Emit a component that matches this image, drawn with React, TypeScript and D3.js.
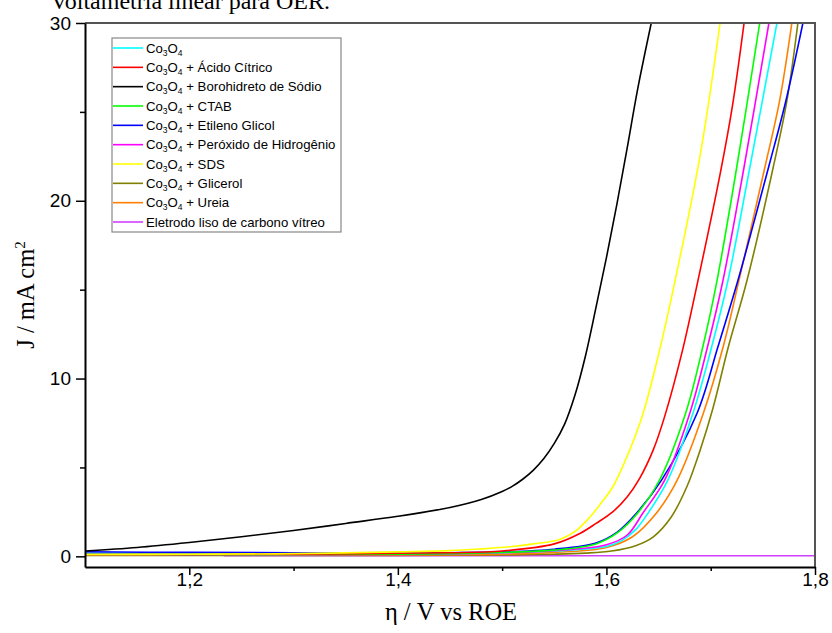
import React, { useEffect, useRef } from 'react';
import * as d3 from 'd3';

// tick labels
const xTicks = [1.2, 1.4, 1.6, 1.8];
const xMinorTicks = [1.3, 1.5, 1.7];
const yTicks = [0, 10, 20, 30];
const yMinorTicks = [5, 15, 25];

// [potential V, current density mA cm-2]
const co3o4 = [[1.1, 0.15], [1.3, 0.12], [1.45, 0.15], [1.5, 0.2], [1.55, 0.3], [1.6, 0.55], [1.615, 0.9], [1.628, 1.5], [1.64, 2.44], [1.659, 4.3], [1.683, 8.06], [1.701, 11.8], [1.7165, 15.5], [1.7376, 21.9], [1.7635, 30]];
const acidoCitrico = [[1.1, 0.1], [1.3, 0.12], [1.45, 0.2], [1.5, 0.3], [1.55, 0.7], [1.575, 1.3], [1.59, 1.85], [1.606, 2.5], [1.62, 3.35], [1.632, 4.4], [1.645, 6.0], [1.656, 7.9], [1.673, 11.6], [1.687, 15.3], [1.709, 21.5], [1.721, 25.4], [1.732, 30]];
const borohidreto = [[1.1, 0.3], [1.15, 0.5], [1.2, 0.78], [1.25, 1.1], [1.3, 1.45], [1.35, 1.85], [1.4, 2.25], [1.45, 2.75], [1.48, 3.2], [1.5, 3.65], [1.51, 3.95], [1.52, 4.35], [1.53, 4.85], [1.54, 5.5], [1.55, 6.35], [1.56, 7.45], [1.57, 9.1], [1.58, 11.3], [1.59, 14.0], [1.6, 16.8], [1.61, 19.8], [1.62, 23.0], [1.63, 26.3], [1.643, 30]];
const ctab = [[1.1, 0.1], [1.4, 0.12], [1.5, 0.22], [1.55, 0.35], [1.59, 0.7], [1.61, 1.3], [1.63, 2.44], [1.651, 4.3], [1.676, 8.06], [1.6925, 11.8], [1.706, 15.5], [1.725, 21.9], [1.747, 30]];
const etilenoGlicol = [[1.1, 0.25], [1.2, 0.22], [1.3, 0.2], [1.4, 0.18], [1.5, 0.25], [1.55, 0.4], [1.59, 0.75], [1.61, 1.35], [1.629, 2.44], [1.653, 4.3], [1.687, 8.06], [1.707, 11.8], [1.726, 15.5], [1.741, 18.7], [1.756, 22.0], [1.772, 25.6], [1.7884, 30]];
const peroxido = [[1.1, 0.1], [1.4, 0.1], [1.5, 0.2], [1.55, 0.32], [1.6, 0.65], [1.62, 1.2], [1.635, 2.44], [1.656, 4.3], [1.68, 8.06], [1.697, 11.8], [1.7117, 15.5], [1.732, 21.9], [1.7558, 30]];
const sds = [[1.1, 0.1], [1.2, 0.12], [1.3, 0.15], [1.4, 0.25], [1.45, 0.32], [1.48, 0.42], [1.51, 0.55], [1.53, 0.7], [1.555, 0.95], [1.57, 1.4], [1.584, 2.2], [1.595, 3.0], [1.606, 3.9], [1.6225, 6.0], [1.635, 8.0], [1.651, 11.6], [1.664, 15.0], [1.69, 22.6], [1.709, 30]];
const glicerol = [[1.1, 0.05], [1.4, 0.05], [1.5, 0.08], [1.55, 0.12], [1.58, 0.18], [1.605, 0.3], [1.628, 0.6], [1.645, 1.1], [1.662, 2.2], [1.677, 3.9], [1.69, 6.0], [1.702, 8.3], [1.717, 11.8], [1.7347, 15.5], [1.76, 21.9], [1.773, 25.6], [1.7836, 30]];
const ureia = [[1.1, 0.08], [1.3, 0.08], [1.5, 0.12], [1.55, 0.22], [1.6, 0.5], [1.625, 1.1], [1.648, 2.44], [1.668, 4.3], [1.693, 8.06], [1.712, 11.8], [1.727, 15.5], [1.752, 21.9], [1.766, 25.6], [1.7778, 30]];
const carbonoVitreo = [[1.233, 0.03], [1.5, 0.03], [1.8, 0.03]];

const seriesNames = [
  'Co3O4',
  'Co3O4 + Ácido Cítrico',
  'Co3O4 + Borohidreto de Sódio',
  'Co3O4 + CTAB',
  'Co3O4 + Etileno Glicol',
  'Co3O4 + Peróxido de Hidrogênio',
  'Co3O4 + SDS',
  'Co3O4 + Glicerol',
  'Co3O4 + Ureia',
  'Eletrodo liso de carbono vítreo',
];
const seriesColors = ['#00ffff', '#ff0000', '#000000', '#00ff00', '#0000ff', '#ff00ff', '#ffff00', '#808000', '#ff8000', '#d040ff'];
const seriesData = [co3o4, acidoCitrico, borohidreto, ctab, etilenoGlicol, peroxido, sds, glicerol, ureia, carbonoVitreo];
// drawing order (last on top)
const drawOrder = [9, 7, 8, 4, 0, 5, 3, 1, 6, 2];

const App = () => {
  const svgRef = useRef(null);

  useEffect(() => {
    const svg = d3.select(svgRef.current);
    svg.selectAll('*').remove();

    const width = 832;
    const height = 633;
    const margin = { top: 23, right: 17, bottom: 66, left: 85 };

    const x = d3.scaleLinear().domain([1.1, 1.8]).range([margin.left, width - margin.right]);
    const y = d3.scaleLinear().domain([-0.6, 30]).range([height - margin.bottom, margin.top]);

    const sans = 'Liberation Sans, Arial, sans-serif';
    const serif = 'Liberation Serif, Times New Roman, serif';
    const comma = (d: number) => d3.format('.1f')(d).replace('.', ',');

    // cut-off caption line above the chart
    svg.append('text')
      .attr('x', 330).attr('y', 9)
      .attr('text-anchor', 'end')
      .attr('font-family', serif).attr('font-size', 24)
      .text('Voltametria linear para OER.');

    svg.append('clipPath').attr('id', 'plot-clip')
      .append('rect')
      .attr('x', margin.left).attr('y', margin.top)
      .attr('width', width - margin.left - margin.right)
      .attr('height', height - margin.top - margin.bottom);

    const line = d3.line()
      .x(d => x(d[0]))
      .y(d => y(d[1]))
      .curve(d3.curveCatmullRom.alpha(0.5));

    const plot = svg.append('g').attr('clip-path', 'url(#plot-clip)');
    drawOrder.forEach(i => {
      plot.append('path')
        .attr('d', line(seriesData[i]))
        .attr('fill', 'none')
        .attr('stroke', seriesColors[i])
        .attr('stroke-width', 1.6);
    });

    // frame top and right
    svg.append('path')
      .attr('d', `M${margin.left},${margin.top}H${width - margin.right}V${height - margin.bottom}`)
      .attr('fill', 'none').attr('stroke', '#555').attr('stroke-width', 2);

    // x axis
    const xAxis = svg.append('g').attr('transform', `translate(0,${height - margin.bottom})`);
    xAxis.call(d3.axisBottom(x).tickValues(xTicks).tickSize(8).tickSizeOuter(0).tickFormat(comma));
    xAxis.selectAll('text')
      .attr('font-family', sans).attr('font-size', 19).attr('y', 6).attr('dy', '0.71em').attr('fill', '#000');
    xAxis.append('g').call(d3.axisBottom(x).tickValues(xMinorTicks).tickSize(4).tickSizeOuter(0).tickFormat(() => ''))
      .select('.domain').remove();
    xAxis.selectAll('.domain').attr('stroke-width', 2);
    xAxis.selectAll('line').attr('stroke-width', 1.5);

    // y axis
    const yAxis = svg.append('g').attr('transform', `translate(${margin.left},0)`);
    yAxis.call(d3.axisLeft(y).tickValues(yTicks).tickSize(9).tickSizeOuter(0));
    yAxis.selectAll('text')
      .attr('font-family', sans).attr('font-size', 19).attr('x', -14).attr('fill', '#000');
    yAxis.append('g').call(d3.axisLeft(y).tickValues(yMinorTicks).tickSize(5).tickSizeOuter(0).tickFormat(() => ''))
      .select('.domain').remove();
    yAxis.selectAll('.domain').attr('stroke-width', 2);
    yAxis.selectAll('line').attr('stroke-width', 1.5);

    // axis titles
    svg.append('text')
      .attr('x', 451).attr('y', 620)
      .attr('text-anchor', 'middle')
      .attr('font-family', serif).attr('font-size', 24.5)
      .text('η / V vs ROE');

    const yt = svg.append('text')
      .attr('transform', 'translate(34,295) rotate(-90)')
      .attr('text-anchor', 'middle')
      .attr('font-family', serif).attr('font-size', 24.5);
    yt.append('tspan').text('J / mA cm');
    yt.append('tspan').attr('dy', -9).attr('font-size', 15).text('2');

    // legend
    const legend = svg.append('g');
    legend.append('rect')
      .attr('x', 112).attr('y', 38).attr('width', 229).attr('height', 194)
      .attr('fill', '#fff').attr('stroke', '#888').attr('stroke-width', 1.2);

    const rowY = d3.scaleLinear().domain([0, 9]).range([48, 222]);
    seriesNames.forEach((name, i) => {
      const yy = rowY(i);
      legend.append('line')
        .attr('x1', 113).attr('x2', 143).attr('y1', yy).attr('y2', yy)
        .attr('stroke', seriesColors[i]).attr('stroke-width', 1.6);
      const t = legend.append('text')
        .attr('x', 146).attr('y', yy + 4.5)
        .attr('font-family', sans).attr('font-size', 13.2);
      if (name.startsWith('Co3O4')) {
        t.append('tspan').text('Co');
        t.append('tspan').attr('font-size', 8.5).attr('dy', 3).text('3');
        t.append('tspan').attr('dy', -3).text('O');
        t.append('tspan').attr('font-size', 8.5).attr('dy', 3).text('4');
        t.append('tspan').attr('dy', -3).text(name.slice(5));
      } else {
        t.text(name);
      }
    });
  }, []);

  return (
    <svg ref={svgRef} width={832} height={633} style={{ position: 'absolute', left: 0, top: 0, background: '#fff' }}></svg>
  );
};

export default App;
